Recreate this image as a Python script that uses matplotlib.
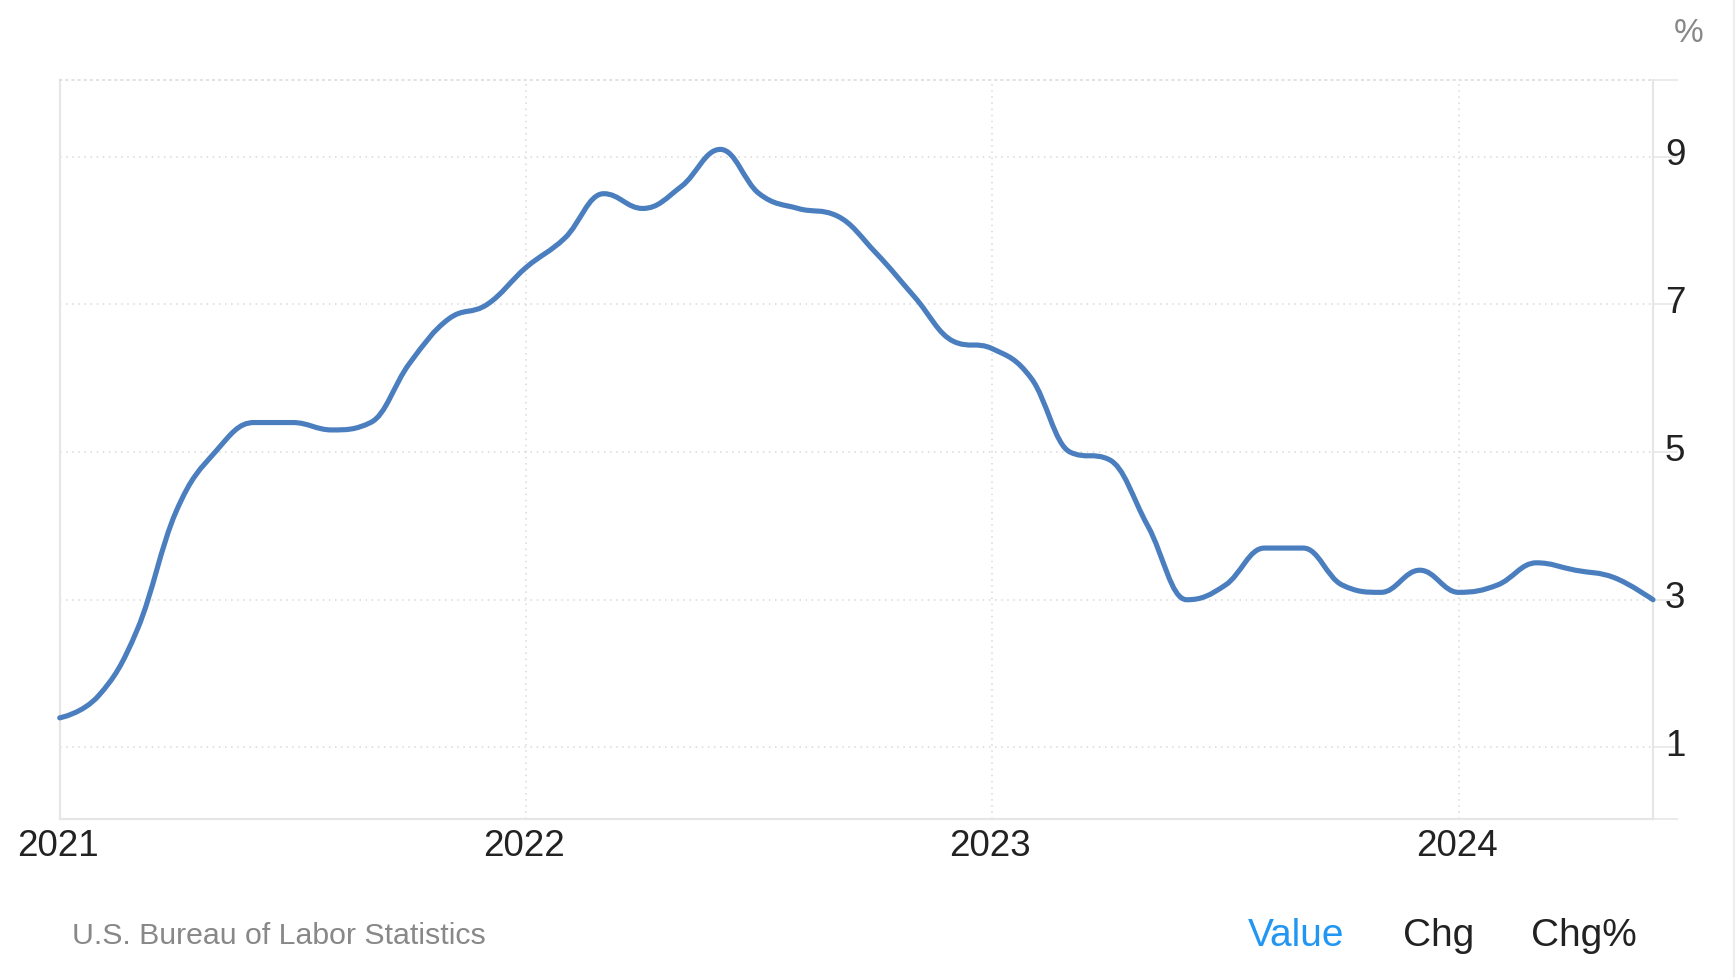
import matplotlib
matplotlib.use("Agg")
import matplotlib.pyplot as plt
import matplotlib.transforms as mtransforms
from matplotlib.path import Path
from matplotlib.patches import PathPatch
import numpy as np

plt.rcParams['font.family'] = ['Liberation Sans', 'DejaVu Sans']

# ---- data: US CPI inflation rate, monthly (Jan 2021 - Jun 2024) ----
values_2021 = [1.4, 1.7, 2.6, 4.2, 5.0, 5.4, 5.4, 5.3, 5.4, 6.2, 6.8, 7.0]
values_2022 = [7.5, 7.9, 8.5, 8.3, 8.6, 9.1, 8.5, 8.3, 8.2, 7.7, 7.1, 6.5]
values_2023 = [6.4, 6.0, 5.0, 4.9, 4.0, 3.0, 3.2, 3.7, 3.7, 3.2, 3.1, 3.4]
values_2024 = [3.1, 3.2, 3.5, 3.4, 3.3, 3.0]
values = values_2021 + values_2022 + values_2023 + values_2024
months = np.arange(len(values))  # month index from Jan 2021

year_labels = ["2021", "2022", "2023", "2024"]
year_pos = [0, 12, 24, 36]
y_ticks = [1, 3, 5, 7, 9]
y_min, y_max = 0.03, 10.04
source = "U.S. Bureau of Labor Statistics"
buttons = ["Value", "Chg", "Chg%"]
unit = "%"

W, H = 1736, 978
fig = plt.figure(figsize=(W / 100, H / 100), dpi=100)
ax = fig.add_axes([59.7 / W, 1 - 820 / H, (1653 - 59.7) / W, (820 - 81) / H])
ax.set_xlim(months[0], months[-1])
ax.set_ylim(y_min, y_max)

grid_c = "#d9d9d9"
axis_c = "#e6e6e6"

# gridlines
for v in y_ticks:
    ax.axhline(v, color=grid_c, lw=1.1, ls=(0, (1, 3)), zorder=1)
for p in year_pos[1:]:
    ax.axvline(p, color=grid_c, lw=1.1, ls=(0, (1, 3)), zorder=1)

ax.spines["top"].set_color(grid_c)
ax.spines["top"].set_linewidth(1.1)
ax.spines["top"].set_linestyle((0, (1, 3)))
for s in ["left", "right", "bottom"]:
    ax.spines[s].set_color(axis_c)
    ax.spines[s].set_linewidth(1.6)

ax.set_xticks([])
ax.yaxis.tick_right()
ax.set_yticks([y_min] + y_ticks + [y_max])
ax.tick_params(axis="y", which="both", length=18, width=1.1, color=axis_c,
               labelright=False, right=True, left=False)

# Highcharts-like spline
def spline_path(xs, ys, smoothing=1.5):
    n = len(xs)
    lc = [(xs[i], ys[i]) for i in range(n)]
    rc = [(xs[i], ys[i]) for i in range(n)]
    denom = smoothing + 1
    for i in range(1, n - 1):
        px, py = xs[i], ys[i]
        lx, ly = xs[i - 1], ys[i - 1]
        nx, ny = xs[i + 1], ys[i + 1]
        lcx = (smoothing * px + lx) / denom
        lcy = (smoothing * py + ly) / denom
        rcx = (smoothing * px + nx) / denom
        rcy = (smoothing * py + ny) / denom
        if rcx != lcx:
            corr = ((rcy - lcy) * (rcx - px)) / (rcx - lcx) + py - rcy
            lcy += corr
            rcy += corr
        if lcy > max(ly, py):
            lcy = max(ly, py)
            rcy = 2 * py - lcy
        elif lcy < min(ly, py):
            lcy = min(ly, py)
            rcy = 2 * py - lcy
        if rcy > max(py, ny):
            rcy = max(py, ny)
            lcy = 2 * py - rcy
        elif rcy < min(py, ny):
            rcy = min(py, ny)
            lcy = 2 * py - rcy
        lc[i] = (lcx, lcy)
        rc[i] = (rcx, rcy)
    verts = [(xs[0], ys[0])]
    codes = [Path.MOVETO]
    for i in range(1, n):
        verts += [rc[i - 1], lc[i], (xs[i], ys[i])]
        codes += [Path.CURVE4] * 3
    return Path(verts, codes)

path = spline_path(list(months.astype(float)), values)
ax.add_patch(PathPatch(path, facecolor="none", edgecolor="#4a7ebe", lw=3.7,
                       capstyle="round", joinstyle="round", zorder=3, clip_on=False))

# y labels (right)
ytrans = mtransforms.blended_transform_factory(ax.transAxes, ax.transData)
ytrans = mtransforms.offset_copy(ytrans, fig=fig, x=12, y=2, units="dots")
for v in y_ticks:
    ax.text(1.0, v, str(v), transform=ytrans, ha="left", va="center",
            fontsize=26.5, color="#222222")

# x labels
xtrans = mtransforms.blended_transform_factory(ax.transData, ax.transAxes)
xtrans = mtransforms.offset_copy(xtrans, fig=fig, x=-2, y=-27, units="dots")
for p, lab in zip(year_pos, year_labels):
    ax.text(p, 0, lab, transform=xtrans, ha="center", va="center",
            fontsize=26.5, color="#222222")

# extra texts
fig.text(1689 / W, 1 - 34 / H, unit, ha="center", va="center", fontsize=24, color="#888888")
fig.text(72 / W, 1 - 936 / H, source, ha="left", va="center", fontsize=21.8, color="#888888")
btn_x = [1248, 1403, 1531]
btn_c = ["#2196f3", "#222222", "#222222"]
for bx, b, c in zip(btn_x, buttons, btn_c):
    fig.text(bx / W, 1 - 936 / H, b, ha="left", va="center", fontsize=28, color=c)

# page border line at far right
fig.add_artist(plt.Line2D([1734 / W, 1734 / W], [0, 1], color="#eeeeee", lw=1.5))

fig.savefig("out.png", dpi=100, facecolor="white")
